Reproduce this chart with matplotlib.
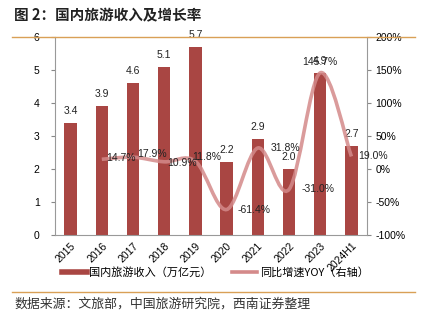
import matplotlib

matplotlib.use("Agg")

import matplotlib.pyplot as plt
from matplotlib.lines import Line2D
from matplotlib.path import Path
from matplotlib.patches import PathPatch

plt.rcParams["font.family"] = ["Liberation Sans", "Noto Sans CJK SC", "DejaVu Sans"]

years = ["2015", "2016", "2017", "2018", "2019", "2020", "2021", "2022", "2023", "2024H1"]
income = [3.4, 3.9, 4.6, 5.1, 5.7, 2.2, 2.9, 2.0, 4.9, 2.7]
yoy_years = years[1:]
yoy = [14.7, 17.9, 10.9, 11.8, -61.4, 31.8, -31.0, 145.7, 19.0]

BAR = "#a94643"
LINE = "#d48a8a"
CJK = ["Noto Sans CJK SC", "DejaVu Sans"]


def smooth_path(xs, ys, tension=1 / 6):
    # catmull-rom style bezier through the points, like excel's smoothed line
    verts = [(xs[0], ys[0])]
    codes = [Path.MOVETO]
    n = len(xs)
    for i in range(n - 1):
        x0, y0 = (xs[i - 1], ys[i - 1]) if i > 0 else (xs[i], ys[i])
        x1, y1 = xs[i], ys[i]
        x2, y2 = xs[i + 1], ys[i + 1]
        x3, y3 = (xs[i + 2], ys[i + 2]) if i + 2 < n else (x2, y2)
        c1 = (x1 + (x2 - x0) * tension, y1 + (y2 - y0) * tension)
        c2 = (x2 - (x3 - x1) * tension, y2 - (y3 - y1) * tension)
        verts += [c1, c2, (x2, y2)]
        codes += [Path.CURVE4] * 3
    return Path(verts, codes)


fig = plt.figure(figsize=(4.24, 3.25), dpi=100)
ax = fig.add_axes([55 / 424, 1 - 235 / 325, 312 / 424, 198 / 325])
ax2 = ax.twinx()

x = list(range(len(years)))
ax.bar(x, income, width=0.4, color=BAR, zorder=2)
for xi, v in zip(x, income):
    ax.annotate(f"{v:.1f}", (xi, v), xytext=(0, 5), textcoords="offset points",
                ha="center", va="bottom", fontsize=7.5, color="#222222")

ax.set_xlim(-0.5, len(years) - 0.5)
ax.set_ylim(0, 6)
ax.set_yticks(range(0, 7))
ax.set_xticks(x)
ax.set_xticklabels(years, rotation=45, ha="right", rotation_mode="anchor", fontsize=7.5)
ax.tick_params(axis="x", length=0, pad=4)
ax.tick_params(axis="y", labelsize=7.5, length=3, color="#888888", pad=8)

ax2.set_ylim(-100, 200)
ax2.set_yticks(range(-100, 201, 50))
ax2.set_yticklabels([f"{t}%" for t in range(-100, 201, 50)])
ax2.tick_params(axis="y", labelsize=7.5, length=3, color="#888888", pad=3)

xl = list(range(1, len(years)))
ax2.add_patch(PathPatch(smooth_path(xl, yoy), facecolor="none", edgecolor=LINE,
                        lw=2.6, alpha=0.85, capstyle="butt", zorder=3))

offsets = [(3, 1), (3, 2), (2, -1), (-2, 3), (8, 0), (9, 0), (9, 0), (0, 4), (5, 0)]
for xi, v, off in zip(xl, yoy, offsets):
    ha = "center" if v > 100 else "left"
    va = "bottom" if v > 100 else "center"
    ax2.annotate(f"{v:.1f}%", (xi, v), xytext=off, textcoords="offset points",
                 ha=ha, va=va, fontsize=7.5, color="#222222", zorder=5)

for a in (ax, ax2):
    a.spines["top"].set_visible(False)
    for side in ("left", "right", "bottom"):
        a.spines[side].set_color("#999999")
        a.spines[side].set_linewidth(0.8)
ax.spines["right"].set_visible(False)
ax2.spines["left"].set_visible(False)
ax2.spines["bottom"].set_visible(False)

handles = [Line2D([], [], color=BAR, lw=4), Line2D([], [], color=LINE, lw=2.6)]
fig.legend(handles, ["国内旅游收入（万亿元）", "同比增速YOY（右轴）"],
           loc="center", bbox_to_anchor=(215 / 424, 1 - 272 / 325), ncol=2,
           frameon=False, handlelength=2.3, handletextpad=0.2,
           columnspacing=1.8, prop={"family": CJK, "size": 8})

fig.text(14 / 424, 1 - 15 / 325, "图 2：国内旅游收入及增长率", fontsize=10.5,
         fontweight="bold", family=CJK, va="center", ha="left", color="#222222")
fig.add_artist(Line2D([12 / 424, 415 / 424], [1 - 37 / 325] * 2, color="#d9a056", lw=1))
fig.add_artist(Line2D([12 / 424, 415 / 424], [1 - 292 / 325] * 2, color="#d9a056", lw=1))
fig.text(14 / 424, 1 - 304 / 325, "数据来源：文旅部，中国旅游研究院，西南证券整理", fontsize=9.3,
         family=CJK, style="italic", va="center", ha="left", color="#333333")

fig.savefig("out.png", dpi=100)
